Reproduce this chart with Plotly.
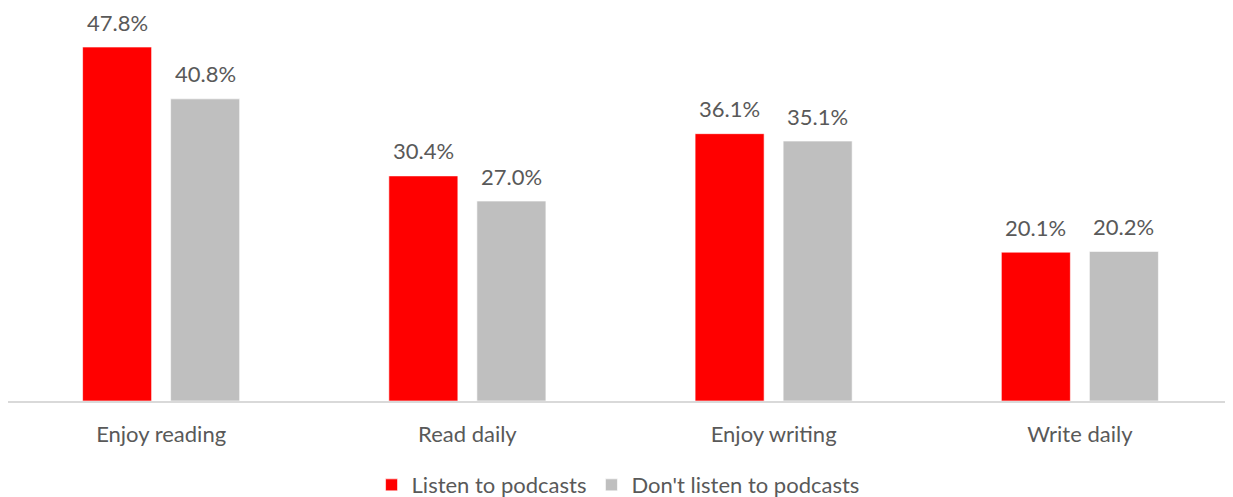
import plotly.graph_objects as go

categories = ["Enjoy reading", "Read daily", "Enjoy writing", "Write daily"]
listen = [47.8, 30.4, 36.1, 20.1]
dont_listen = [40.8, 27.0, 35.1, 20.2]
series_names = ["Listen to podcasts", "Don't listen to podcasts"]
colors = ["#FF0000", "#BFBFBF"]

FONT = "Lato, Open Sans, sans-serif"
TXT = "#595959"
FS = 22

fig = go.Figure()
annotations = []
for i, (name, vals, col) in enumerate(zip(series_names, [listen, dont_listen], colors)):
    fig.add_trace(go.Bar(
        x=categories, y=vals, name=name,
        marker=dict(color=col, line=dict(color="rgba(255,255,255,0.6)", width=1)),
    ))
    shift = -44 if i == 0 else 44
    for c, v in zip(categories, vals):
        annotations.append(dict(
            x=c, y=v, xref="x", yref="y", text=f"{v:.1f}%", showarrow=False,
            xanchor="center", yanchor="middle", xshift=shift, yshift=25,
            font=dict(size=FS, color=TXT, family=FONT),
        ))

fig.update_layout(
    width=1225, height=489,
    margin=dict(l=0, r=0, t=2, b=96, autoexpand=False),
    paper_bgcolor="white", plot_bgcolor="white",
    barmode="group", bargap=0.425, bargroupgap=0.216,
    font=dict(family=FONT, color=TXT, size=FS),
    annotations=annotations,
    legend=dict(orientation="h", x=0.498, xanchor="center", y=-0.215, yanchor="middle",
                font=dict(size=FS, color=TXT, family=FONT), traceorder="normal"),
    xaxis=dict(showline=True, linecolor="#D9D9D9", linewidth=1.5, showgrid=False,
               ticks="", ticklabelstandoff=13, tickfont=dict(size=FS, color=TXT)),
    yaxis=dict(range=[0, 52.8], visible=False, showgrid=False, zeroline=False),
)
fig.write_html("out.html")
